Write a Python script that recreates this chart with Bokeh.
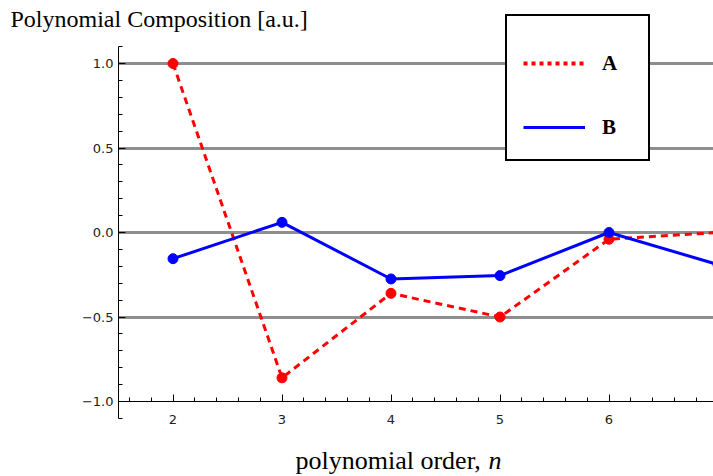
from bokeh.plotting import figure
from bokeh.models import (Range1d, SingleIntervalTicker, FixedTicker, Label,
                          Legend, LegendItem, ColumnDataSource, CustomJSTickFormatter)
from bokeh.embed import file_html
from bokeh.resources import INLINE

# ---- data ----
orders = [2, 3, 4, 5, 6, 7]
series_a = [1.0, -0.86, -0.36, -0.50, -0.04, 0.0]
series_b = [-0.155, 0.06, -0.275, -0.255, 0.0, -0.19]
grid_values = [-0.5, 0.0, 0.5, 1.0]
series_names = ["A", "B"]
title_text = "Polynomial Composition [a.u.]"
xlabel_text = "polynomial order, "
xlabel_var = "n"

src = ColumnDataSource(dict(x=orders, a=series_a, b=series_b))

W, H = 713, 476
# pixel layout of the axes box (frame covers the whole canvas)
x_axis_px, x_unit_px, x_at = 118, 109.0, 1.5      # x=1.5 at pixel 118
y_zero_px, y_unit_px = 232, 169.0                  # y=0 at pixel 232
x0 = x_at - x_axis_px / x_unit_px
x1 = x_at + (W - x_axis_px) / x_unit_px
y1 = y_zero_px / y_unit_px
y0 = -(H - y_zero_px) / y_unit_px

p = figure(width=W, height=H, output_backend="svg", toolbar_location=None,
           x_range=Range1d(x0, x1), y_range=Range1d(y0, y1),
           min_border=0)
p.outline_line_color = None
p.background_fill_color = "white"
p.border_fill_color = "white"

# grid
p.xgrid.visible = False
yg = p.ygrid[0]
yg.ticker = FixedTicker(ticks=grid_values)
try:
    yg.cross_bounds = (1.5, 8)
except AttributeError:
    pass
yg.grid_line_color = "#8e8e8e"
yg.grid_line_width = 3

# axes
xa = p.xaxis[0]
ya = p.yaxis[0]
xa.fixed_location = -1.0
ya.fixed_location = 1.5
xa.bounds = (1.5, 8)
ya.bounds = (-1.1001, 1.1001)
xa.ticker = SingleIntervalTicker(interval=1, num_minor_ticks=5)
ya.ticker = SingleIntervalTicker(interval=0.5, num_minor_ticks=5)
ya.formatter = CustomJSTickFormatter(
    code="return tick.toFixed(1).replace('-', '\\u2212');")
for ax in (xa, ya):
    ax.axis_line_color = "black"
    ax.axis_line_width = 1
    ax.major_tick_in = 7
    ax.major_tick_out = 0
    ax.minor_tick_in = 4
    ax.minor_tick_out = 0
    ax.major_tick_line_color = "black"
    ax.minor_tick_line_color = "black"
    ax.major_label_text_font = "DejaVu Sans"
    ax.major_label_text_font_size = "13px"
    ax.major_label_text_color = "#222222"
ya.major_label_standoff = 5
xa.major_label_standoff = 13

# series
ra = p.line("x", "a", source=src, line_color="#ff0000", line_width=3,
            line_dash="7 5")
p.scatter("x", "a", source=src, size=10, color="#ff0000")
rb = p.line("x", "b", source=src, line_color="#0000ff", line_width=3)
p.scatter("x", "b", source=src, size=10, color="#0000ff")

# legend-only proxy for the dotted key of series A
proxy_a = p.line(x=[float("nan")], y=[float("nan")], line_color="#ff0000",
                 line_width=4, line_dash="4 4")

legend = Legend(items=[LegendItem(label=series_names[0], renderers=[proxy_a]),
                       LegendItem(label=series_names[1], renderers=[rb])],
                location=(505, H - 161), orientation="vertical",
                border_line_color="black", border_line_width=2,
                border_line_alpha=1.0,
                background_fill_color="white", background_fill_alpha=1.0,
                padding=16, spacing=32, glyph_width=62, glyph_height=32,
                label_height=32, label_width=30, label_standoff=17,
                label_text_font="Liberation Serif", label_text_font_style="bold",
                label_text_font_size="21px", label_text_color="black",
                title=" ", title_text_font_size="13px", title_standoff=0)
p.add_layout(legend, "center")

# texts
p.add_layout(Label(x=10, y=H - 18, x_units="screen", y_units="screen",
                   text=title_text, text_font="Liberation Serif",
                   text_baseline="alphabetic",
                   text_font_size="24px", text_color="black"))
p.add_layout(Label(x=295, y=H - 460, x_units="screen", y_units="screen",
                   text=xlabel_text, text_font="Liberation Serif",
                   text_baseline="alphabetic",
                   text_font_size="26px", text_color="black"))
p.add_layout(Label(x=488, y=H - 460, x_units="screen", y_units="screen",
                   text=xlabel_var, text_font="Liberation Serif",
                   text_font_style="italic", text_baseline="alphabetic",
                   text_font_size="26px", text_color="black"))

open("out.html", "w").write(file_html(p, INLINE))
